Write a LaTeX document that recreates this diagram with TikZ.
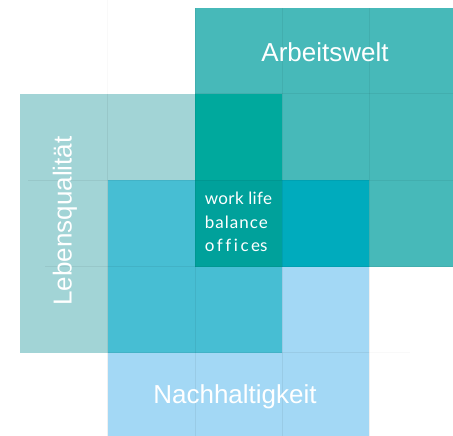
\documentclass[tikz,border=0pt]{standalone}
\usepackage{fontspec}
\setmainfont{Liberation Sans}
\newfontfamily\centrefont[Ligatures=NoCommon]{Lato}
\usetikzlibrary{positioning}
\definecolor{colArbeit}{RGB}{71,185,185}
\definecolor{colLeben}{RGB}{162,212,214}
\definecolor{colNach}{RGB}{163,216,245}
\definecolor{colAL}{RGB}{0,169,157}
\definecolor{colAN}{RGB}{0,171,189}
\definecolor{colLN}{RGB}{71,190,211}
\definecolor{colMitte}{RGB}{0,161,155}
\begin{document}
\begin{tikzpicture}[x=1pt, y={(0,-1pt)},
    lab/.style={text=white, font=\fontsize{26}{28}\selectfont, inner sep=0pt},
    gl/.style={black, opacity=0.06, line width=1pt},
    glw/.style={black, opacity=0.025, line width=1pt}]
    \useasboundingbox (0,0) rectangle (453,436);
    % three squares of 3x3 cells
    \fill[colArbeit] (195,8.5) rectangle (453,266.5);
    \fill[colLeben] (20,94) rectangle (282,352.5);
    \fill[colNach] (107.5,180) rectangle (369,436);
    % overlaps
    \fill[colAL] (195,94) rectangle (282,180);
    \fill[colAN] (282,180) rectangle (369,266.5);
    \fill[colLN] (107.5,180) rectangle (195,352.5);
    \fill[colLN] (195,266.5) rectangle (282,352.5);
    \fill[colMitte] (195,180) rectangle (282,266.5);
    % faint cell lines
    \draw[glw] (107.5,0) -- (107.5,94);
    \draw[gl] (107.5,94) -- (107.5,436);
    \draw[gl] (195,8.5) -- (195,436);
    \draw[gl] (282,8.5) -- (282,436);
    \draw[gl] (369,8.5) -- (369,436);
    \draw[gl] (195,94) -- (453,94);
    \draw[gl] (28,180) -- (453,180);
    \draw[gl] (45,266.5) -- (453,266.5);
    \draw[gl] (107.5,352.5) -- (369,352.5);
    \draw[glw] (369,352.5) -- (410,352.5);
    % labels
    \node[lab] (arbeit) at (325,52) {Arbeitswelt};
    \node[lab, rotate=90] (leben) at (65,221) {Lebensqualität};
    \node[lab] (nach) at (235,397) {Nachhaltigkeit};
    \node[text=white, align=left, inner sep=0pt,
      font=\centrefont\fontsize{17}{23.5}\selectfont] (wlb) at (238.5,222)
      {{\addfontfeatures{LetterSpace=2}work life}\\
       {\addfontfeatures{LetterSpace=6}balance}\\
       {\addfontfeatures{LetterSpace=15}office}s};
\end{tikzpicture}
\end{document}
